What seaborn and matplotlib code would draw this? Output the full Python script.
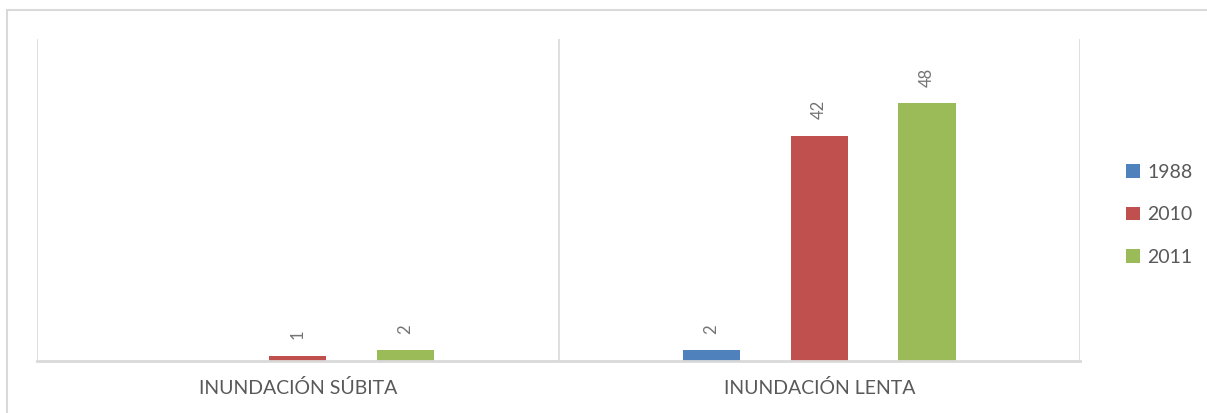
import matplotlib
matplotlib.use("Agg")
import matplotlib.pyplot as plt
import seaborn as sns
import pandas as pd
from matplotlib.patches import Rectangle

# --- Données ---
categorias = ["INUNDACIÓN SÚBITA", "INUNDACIÓN LENTA"]
anios = ["1988", "2010", "2011"]
v1988 = [0, 2]
v2010 = [1, 42]
v2011 = [2, 48]
colores = ["#4F81BD", "#C0504D", "#9BBB59"]

df = pd.DataFrame({
    "categoria": categorias * 3,
    "anio": [a for a in anios for _ in categorias],
    "valor": v1988 + v2010 + v2011,
})

sns.set_style("white")
plt.rcParams["font.family"] = ["Lato", "DejaVu Sans"]

fig = plt.figure(figsize=(12.07, 4.13), dpi=100)
ax = fig.add_axes([37 / 1207, 1 - 361 / 413, (1080 - 37) / 1207, (361 - 39) / 413])

sns.barplot(data=df, x="categoria", y="valor", hue="anio", hue_order=anios,
            palette=colores, width=0.62, gap=0.47, linewidth=0,
            saturation=1, ax=ax, legend=True)

# etiquetas de valor (verticales)
for cont, vals in zip(ax.containers, [v1988, v2010, v2011]):
    labels = [str(v) if v > 0 else "" for v in vals]
    ax.bar_label(cont, labels=labels, rotation=90, padding=12,
                 fontsize=12, color="#737373")

ax.set_xlim(-0.5, 1.5)
ax.set_ylim(0, 60)
ax.set_xlabel("")
ax.set_ylabel("")
ax.set_yticks([])
for s in ["top", "right", "left"]:
    ax.spines[s].set_visible(False)
ax.spines["bottom"].set_color("#D9D9D9")
ax.spines["bottom"].set_linewidth(2)
for xb in [-0.5, 0.5, 1.5]:
    ax.axvline(xb, color="#D9D9D9", lw=1.2, zorder=0)
ax.tick_params(axis="x", length=0, pad=13, labelsize=14, labelcolor="#595959")

# leyenda
handles, labels = ax.get_legend_handles_labels()
ax.legend(handles, labels, loc="center left", bbox_to_anchor=(0.933, 0.48),
          bbox_transform=fig.transFigure, frameon=False, fontsize=14,
          handlelength=0.7, handleheight=0.7, handletextpad=0.4,
          labelspacing=1.3, borderpad=0, borderaxespad=0, labelcolor="#595959")

# marco exterior
fig.patches.append(Rectangle((7 / 1207, -0.05), 1.2, 1 - 10 / 413 + 0.05,
                             transform=fig.transFigure, fill=False,
                             edgecolor="#D9D9D9", lw=1.5))

plt.savefig("out.png", dpi=100)
